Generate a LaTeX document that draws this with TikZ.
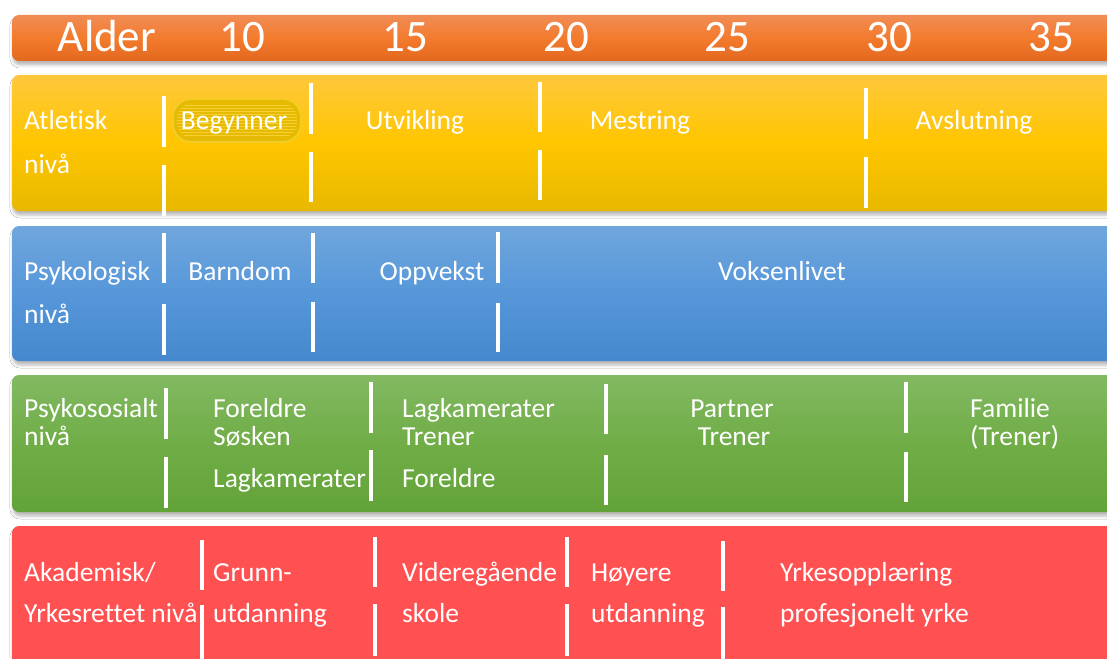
\documentclass[tikz,border=0pt]{standalone}
\usepackage{fontspec}
\setmainfont[Ligatures=NoCommon]{Carlito}
\usetikzlibrary{shadows.blur,patterns}

\definecolor{orT}{RGB}{240,140,85}
\definecolor{orM}{RGB}{243,123,45}
\definecolor{orB}{RGB}{226,104,30}
\definecolor{yeT}{RGB}{255,200,60}
\definecolor{yeM}{RGB}{255,198,0}
\definecolor{yeB}{RGB}{232,184,0}
\definecolor{blT}{RGB}{112,166,220}
\definecolor{blM}{RGB}{86,151,218}
\definecolor{blB}{RGB}{70,136,205}
\definecolor{grT}{RGB}{130,185,98}
\definecolor{grM}{RGB}{112,173,71}
\definecolor{grB}{RGB}{98,163,56}
\definecolor{rdF}{RGB}{255,80,82}
\definecolor{hlF}{RGB}{230,186,0}
\definecolor{hlE}{RGB}{244,204,40}
\definecolor{hlL}{RGB}{246,208,50}

\begin{document}
\begin{tikzpicture}[x=1pt,y=-1pt,
  band/.style={rounded corners=7pt,
    blur shadow={shadow xshift=1pt,shadow yshift=-4pt,shadow blur radius=3pt,shadow opacity=28}},
  lbl/.style={text=white,font=\fontsize{27.5}{32}\selectfont,inner sep=0pt,anchor=base west},
  lblc/.style={lbl,anchor=base},
  hdr/.style={text=white,font=\fontsize{45}{50}\selectfont,inner sep=0pt,anchor=base},
  sep/.style={draw=white,line width=4pt},
]
\clip (0,0) rectangle (1107,658);
\fill[white] (0,0) rectangle (1107,658);

% coloured bands, each with a gradient and a soft shadow
\path[band,top color=orT,bottom color=orB,middle color=orM] (12,15) rectangle (1140,61);
\path[band,top color=yeT,bottom color=yeB,middle color=yeM] (12,75) rectangle (1140,211);
\path[band,top color=blT,bottom color=blB,middle color=blM] (12,226) rectangle (1140,361);
\path[band,top color=grT,bottom color=grB,middle color=grM] (12,375) rectangle (1140,512);
\path[band,fill=rdF] (12,526) rectangle (1140,700);

% header: age scale
\node[hdr] (alder) at (107,52) {Alder};
\node[hdr] (a10) at (242,52) {10};
\node[hdr] (a15) at (405,52) {15};
\node[hdr] (a20) at (566,52) {20};
\node[hdr] (a25) at (727,52) {25};
\node[hdr] (a30) at (889,52) {30};
\node[hdr] (a35) at (1051,52) {35};

% highlighted stage with a textured fill
\path[fill=hlF,draw=hlE,line width=2pt,rounded corners=18pt] (173,99) rectangle (301,142);
\path[pattern=horizontal lines,pattern color=hlL,rounded corners=16pt] (177,103) rectangle (297,138);

% athletic level
\node[lbl] (atl1) at (24,129) {Atletisk};
\node[lbl] (atl2) at (24,173) {nivå};
\node[lblc] (beg) at (234,129) {Begynner};
\node[lblc] (utv) at (415,129) {Utvikling};
\node[lblc] (mes) at (640,129) {Mestring};
\node[lblc] (avs) at (974,129) {Avslutning};
\foreach \x/\a/\b/\c/\d in {164/96/147/165/216, 311/83/134/152/202, 540/82/132/150/200, 866/88/139/157/208}
  {\draw[sep] (\x,\a) -- (\x,\b) (\x,\c) -- (\x,\d);}

% psychological level
\node[lbl] (psy1) at (24,280) {Psykologisk};
\node[lbl] (psy2) at (24,323) {nivå};
\node[lblc] (barn) at (240,280) {Barndom};
\node[lblc] (oppv) at (432,280) {Oppvekst};
\node[lblc] (voks) at (782,280) {Voksenlivet};
\foreach \x/\a/\b/\c/\d in {164/233/283/304/355, 313/233/283/302/352, 498/232/283/303/352}
  {\draw[sep] (\x,\a) -- (\x,\b) (\x,\c) -- (\x,\d);}

% psychosocial level
\node[lbl] (pso1) at (24,417) {Psykososialt};
\node[lbl] (pso2) at (24,445) {nivå};
\node[lbl] (g1a) at (213,417) {Foreldre};
\node[lbl] (g1b) at (213,445) {Søsken};
\node[lbl] (g1c) at (213,487) {Lagkamerater};
\node[lbl] (g2a) at (402,417) {Lagkamerater};
\node[lbl] (g2b) at (402,445) {Trener};
\node[lbl] (g2c) at (402,487) {Foreldre};
\node[lblc] (g3a) at (732,417) {Partner};
\node[lblc] (g3b) at (734,445) {Trener};
\node[lbl] (g4a) at (970,417) {Familie};
\node[lbl] (g4b) at (970,445) {(Trener)};
\foreach \x/\a/\b/\c/\d in {166/388/439/457/508, 371/382/433/450/501, 606/384/434/455/505, 906/382/433/452/502}
  {\draw[sep] (\x,\a) -- (\x,\b) (\x,\c) -- (\x,\d);}

% academic / vocational level
\node[lbl] (ak1) at (24,581) {Akademisk/};
\node[lbl] (ak2) at (24,622) {Yrkesrettet nivå};
\node[lbl] (r1a) at (213,581) {Grunn-};
\node[lbl] (r1b) at (213,622) {utdanning};
\node[lbl] (r2a) at (402,581) {Videregående};
\node[lbl] (r2b) at (402,622) {skole};
\node[lbl] (r3a) at (591,581) {Høyere};
\node[lbl] (r3b) at (591,622) {utdanning};
\node[lbl] (r4a) at (780,581) {Yrkesopplæring};
\node[lbl] (r4b) at (780,622) {profesjonelt yrke};
\foreach \x/\a/\b/\c/\d in {202/540/590/605/662, 375/537/587/604/656, 567/537/587/604/656, 723/541/591/607/662}
  {\draw[sep] (\x,\a) -- (\x,\b) (\x,\c) -- (\x,\d);}
\end{tikzpicture}
\end{document}
